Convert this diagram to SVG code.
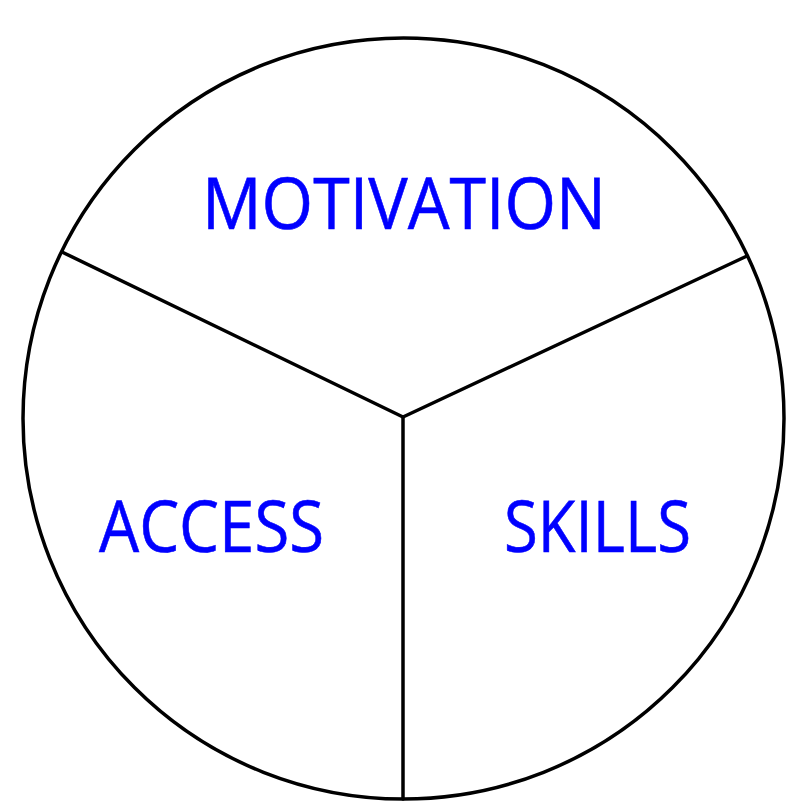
<svg xmlns="http://www.w3.org/2000/svg" width="796" height="812" viewBox="0 0 796 812">
<style>
.ln{fill:none;stroke:#000;stroke-width:3.5;stroke-linecap:round}
.lbl{font-family:"Open Sans","Liberation Sans",sans-serif;font-size:71px;fill:#0000FF;stroke:#0000FF;stroke-width:0.6}
</style>
<rect width="796" height="812" fill="#fff"/>
<g id="connectors">
<circle class="ln" cx="403.5" cy="418.5" r="380.5"/>
<line class="ln" x1="62" y1="252" x2="403" y2="417"/>
<line class="ln" x1="747" y1="256" x2="403" y2="417"/>
<line class="ln" x1="403" y1="417" x2="403" y2="799"/>
</g>
<g id="motivation"><text class="lbl" x="202" y="229" textLength="404" lengthAdjust="spacingAndGlyphs">MOTIVATION</text></g>
<g id="access"><text class="lbl" x="99" y="552" textLength="225" lengthAdjust="spacingAndGlyphs">ACCESS</text></g>
<g id="skills"><text class="lbl" x="504" y="552" textLength="187" lengthAdjust="spacingAndGlyphs">SKILLS</text></g>
</svg>
